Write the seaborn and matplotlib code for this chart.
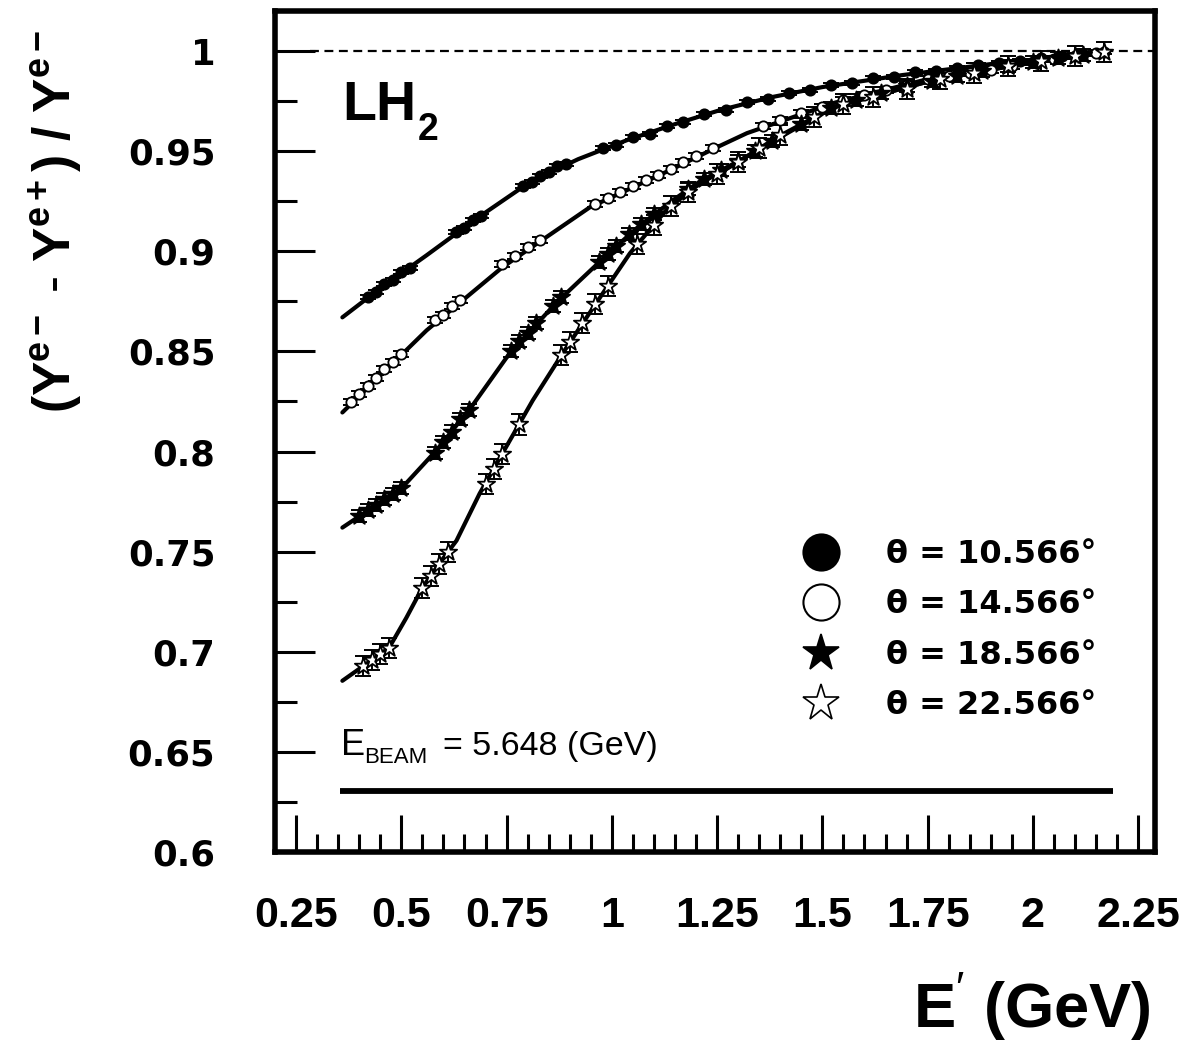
import numpy as np
import pandas as pd
import matplotlib
matplotlib.use("Agg")
import matplotlib.pyplot as plt
import seaborn as sns
from matplotlib.lines import Line2D
from matplotlib.ticker import FixedLocator, MultipleLocator

# ---------------- data ----------------
labels = ["θ = 10.566°", "θ = 14.566°", "θ = 18.566°", "θ = 22.566°"]

# theta = 10.566 deg (filled circles)
x1 = [0.42, 0.44, 0.46, 0.48, 0.50, 0.52, 0.63, 0.65, 0.67, 0.69, 0.79, 0.81, 0.83, 0.85,
      0.87, 0.89, 0.98, 1.01, 1.05, 1.09, 1.13, 1.17, 1.22, 1.27, 1.32, 1.37, 1.42, 1.47,
      1.52, 1.57, 1.62, 1.67, 1.72, 1.77, 1.82, 1.87, 1.92, 1.97, 2.02, 2.07, 2.12, 2.17]
y1 = [0.8770, 0.8795, 0.8835, 0.8855, 0.8895, 0.8915, 0.9095, 0.9115, 0.9155, 0.9175,
      0.9325, 0.9345, 0.9375, 0.9395, 0.9425, 0.9435, 0.9515, 0.9530, 0.9570, 0.9585,
      0.9625, 0.9645, 0.9685, 0.9705, 0.9745, 0.9760, 0.9790, 0.9805, 0.9830, 0.9840,
      0.9865, 0.9870, 0.9895, 0.9900, 0.9915, 0.9930, 0.9940, 0.9950, 0.9965, 0.9975,
      0.9985, 0.9993]
fx1 = [0.36, 0.45, 0.56, 0.68, 0.805, 0.92, 1.036, 1.15, 1.257, 1.38, 1.50, 1.69, 1.90, 2.18]
fy1 = [0.867, 0.8815, 0.898, 0.9165, 0.9345, 0.946, 0.9555, 0.9635, 0.9705, 0.977, 0.982,
       0.988, 0.9935, 0.9995]

# theta = 14.566 deg (open circles)
x2 = [0.38, 0.40, 0.42, 0.44, 0.46, 0.48, 0.50, 0.58, 0.60, 0.62, 0.64, 0.74, 0.77, 0.80,
      0.83, 0.96, 0.99, 1.02, 1.05, 1.08, 1.11, 1.14, 1.17, 1.20, 1.24, 1.36, 1.40, 1.45,
      1.50, 1.55, 1.60, 1.65, 1.70, 1.75, 1.80, 1.85, 1.90, 1.95, 2.00, 2.05, 2.10, 2.15]
y2 = [0.8245, 0.8285, 0.8325, 0.8365, 0.8410, 0.8445, 0.8485, 0.8655, 0.8680, 0.8725,
      0.8755, 0.8935, 0.8975, 0.9020, 0.9055, 0.9235, 0.9265, 0.9295, 0.9325, 0.9355,
      0.9380, 0.9410, 0.9445, 0.9475, 0.9515, 0.9625, 0.9655, 0.9690, 0.9720, 0.9755,
      0.9780, 0.9805, 0.9830, 0.9860, 0.9875, 0.9890, 0.9905, 0.9925, 0.9945, 0.9960,
      0.9975, 0.9990]
fx2 = [0.36, 0.56, 0.74, 0.948, 1.138, 1.25, 1.321, 1.526, 1.76, 2.00, 2.18]
fy2 = [0.8195, 0.8605, 0.892, 0.922, 0.9405, 0.952, 0.959, 0.974, 0.9865, 0.9945, 0.9995]

# theta = 18.566 deg (filled stars)
x3 = [0.40, 0.42, 0.44, 0.46, 0.48, 0.50, 0.58, 0.60, 0.62, 0.64, 0.66, 0.76, 0.78, 0.80,
      0.82, 0.86, 0.88, 0.97, 0.99, 1.01, 1.04, 1.07, 1.10, 1.18, 1.22, 1.26, 1.30, 1.34,
      1.38, 1.45, 1.52, 1.58, 1.64, 1.70, 1.76, 1.82, 1.88, 1.94, 2.00, 2.06, 2.12]
y3 = [0.7680, 0.7710, 0.7735, 0.7765, 0.7790, 0.7820, 0.7995, 0.8050, 0.8100, 0.8160,
      0.8205, 0.8500, 0.8550, 0.8590, 0.8640, 0.8725, 0.8770, 0.8945, 0.8985, 0.9025,
      0.9085, 0.9135, 0.9185, 0.9310, 0.9360, 0.9405, 0.9450, 0.9500, 0.9550, 0.9635,
      0.9715, 0.9755, 0.9790, 0.9825, 0.9850, 0.9875, 0.9898, 0.9925, 0.9945, 0.9963,
      0.9980]
fx3 = [0.36, 0.502, 0.583, 0.669, 0.757, 0.869, 0.995, 1.067, 1.145, 1.21, 1.305, 1.383,
       1.526, 1.764, 2.00, 2.18]
fy3 = [0.762, 0.782, 0.8005, 0.823, 0.849, 0.8745, 0.8995, 0.913, 0.9255, 0.935, 0.9455,
       0.955, 0.972, 0.9855, 0.9945, 0.9995]

# theta = 22.566 deg (open stars)
x4 = [0.41, 0.43, 0.45, 0.47, 0.55, 0.57, 0.59, 0.61, 0.70, 0.72, 0.74, 0.78, 0.88, 0.90,
      0.93, 0.96, 0.99, 1.06, 1.10, 1.14, 1.18, 1.25, 1.30, 1.35, 1.40, 1.48, 1.55, 1.62,
      1.70, 1.78, 1.86, 1.94, 2.02, 2.10, 2.17]
y4 = [0.6930, 0.6960, 0.6990, 0.7020, 0.7320, 0.7380, 0.7440, 0.7500, 0.7840, 0.7915,
      0.7990, 0.8135, 0.8480, 0.8545, 0.8640, 0.8735, 0.8825, 0.9035, 0.9130, 0.9225,
      0.9295, 0.9385, 0.9445, 0.9515, 0.9580, 0.9670, 0.9735, 0.9770, 0.9810, 0.9860,
      0.9890, 0.9925, 0.9950, 0.9975, 0.9993]
fx4 = [0.36, 0.471, 0.512, 0.55, 0.59, 0.631, 0.686, 0.74, 0.774, 0.812, 0.883, 0.964,
       1.043, 1.131, 1.21, 1.288, 1.393, 1.526, 1.764, 2.00, 2.18]
fy4 = [0.6855, 0.702, 0.717, 0.732, 0.744, 0.7555, 0.779, 0.799, 0.8115, 0.8255, 0.849,
       0.8745, 0.899, 0.921, 0.934, 0.943, 0.957, 0.972, 0.9855, 0.9945, 0.9995]

errs = [0.001, 0.0015, 0.003, 0.005]

xticks = [0.25, 0.5, 0.75, 1.0, 1.25, 1.5, 1.75, 2.0, 2.25]
xticklabels = ["0.25", "0.5", "0.75", "1", "1.25", "1.5", "1.75", "2", "2.25"]
yticks = [0.6, 0.65, 0.7, 0.75, 0.8, 0.85, 0.9, 0.95, 1.0]
yticklabels = ["0.6", "0.65", "0.7", "0.75", "0.8", "0.85", "0.9", "0.95", "1"]

ebeam_line_y = 0.6305
ebeam_line_x = (0.355, 2.19)

# ---------------- figure ----------------
sns.set_theme(style="ticks")
plt.rcParams['font.family'] = ['DejaVu Sans']
plt.rcParams.update({
    'axes.facecolor': 'white', 'text.color': 'black', 'axes.labelcolor': 'black',
    'xtick.color': 'black', 'ytick.color': 'black',
    'mathtext.fontset': 'custom', 'mathtext.rm': 'Liberation Sans',
    'mathtext.bf': 'Liberation Sans:bold', 'mathtext.it': 'Liberation Sans:italic',
})

W, H = 1186, 1043
fig = plt.figure(figsize=(W / 100, H / 100), dpi=100)
ax = fig.add_axes([275 / W, 1 - 852 / H, 880 / W, 841 / H])

series = [
    (x1, y1, fx1, fy1, 'o', 'black', 55),
    (x2, y2, fx2, fy2, 'o', 'white', 55),
    (x3, y3, fx3, fy3, '*', 'black', 170),
    (x4, y4, fx4, fy4, '*', 'white', 170),
]
for i, (xs, ys, fxs, fys, mk, fc, sz) in enumerate(series):
    fit = pd.DataFrame({"x": fxs, "y": fys})
    sns.lineplot(data=fit, x="x", y="y", color="black", lw=3.0, sort=False,
                 estimator=None, ax=ax, zorder=2)
    ax.errorbar(xs, ys, yerr=errs[i], fmt='none', ecolor='black', elinewidth=1.4,
                capsize=6, capthick=1.4, zorder=3)
    pts = pd.DataFrame({"x": xs, "y": ys})
    sns.scatterplot(data=pts, x="x", y="y", marker=mk, s=sz, color=fc,
                    edgecolor='black', linewidth=1.3, ax=ax, zorder=4)

# reference lines
ax.axhline(1.0, xmin=(310 - 275) / 880, xmax=1.0, color='black', lw=1.6,
           ls=(0, (4, 2.5)), zorder=1)
ax.hlines(ebeam_line_y, ebeam_line_x[0], ebeam_line_x[1], color='black', lw=4.2, zorder=1)

# axes limits & ticks
ax.set_xlim(0.2, 2.29)
ax.set_ylim(0.6, 1.02)
ax.xaxis.set_major_locator(FixedLocator(xticks))
ax.xaxis.set_minor_locator(MultipleLocator(0.05))
ax.yaxis.set_major_locator(FixedLocator(yticks))
ax.yaxis.set_minor_locator(MultipleLocator(0.025))
ax.set_xticklabels(xticklabels, family=['Liberation Sans', 'DejaVu Sans'],
                   fontweight='bold', fontsize=31)
ax.set_yticklabels(yticklabels, family=['DejaVu Sans'], fontweight='bold', fontsize=25.5)
ax.tick_params(axis='x', which='major', direction='in', length=27, width=2.2, pad=32,
               top=False, bottom=True)
ax.tick_params(axis='x', which='minor', direction='in', length=13, width=2.2,
               top=False, bottom=True)
ax.tick_params(axis='y', which='major', direction='in', length=29, width=2.2, pad=43,
               left=True, right=False)
ax.tick_params(axis='y', which='minor', direction='in', length=16, width=2.2,
               left=True, right=False)
for sp in ax.spines.values():
    sp.set_linewidth(4.0)
    sp.set_color('black')
    sp.set_visible(True)
ax.grid(False)

# axis labels
ax.set_ylabel(r'$\mathbf{(Y^{e-}\ \text{-}\ Y^{e+})\ /\ Y^{e-}}$', fontsize=37,
              va='center', ha='center')
ax.yaxis.set_label_coords((56 - 275) / 880, (852 - 221) / 841)
ax.set_xlabel(r"E$^{\prime}$ (GeV)", family=['Liberation Sans', 'DejaVu Sans'],
              fontweight='bold', fontsize=45.5)
ax.xaxis.label.set_ha('right')
ax.xaxis.label.set_va('baseline')
ax.xaxis.set_label_coords((1151 - 275) / 880, (852 - 1027) / 841)

# in-plot texts
tf = ['Liberation Sans', 'DejaVu Sans']
ax.text((342 - 275) / 880, (852 - 120) / 841, "LH", transform=ax.transAxes,
        family=tf, fontweight='bold', fontsize=40, va='baseline', ha='left')
ax.text((418 - 275) / 880, (852 - 140) / 841, "2", transform=ax.transAxes,
        family=tf, fontweight='bold', fontsize=27, va='baseline', ha='left')
ax.text((341 - 275) / 880, (852 - 755) / 841, "E", transform=ax.transAxes,
        family=tf, fontsize=26, va='baseline', ha='left')
ax.text((364 - 275) / 880, (852 - 763) / 841, "BEAM", transform=ax.transAxes,
        family=tf, fontsize=16, va='baseline', ha='left')
ax.text((443 - 275) / 880, (852 - 755) / 841, "= 5.648 (GeV)", transform=ax.transAxes,
        family=tf, fontsize=24.5, va='baseline', ha='left')

# legend
handles = [
    Line2D([], [], ls='none', marker='o', ms=26, mfc='black', mec='black', mew=1.5),
    Line2D([], [], ls='none', marker='o', ms=26, mfc='white', mec='black', mew=1.5),
    Line2D([], [], ls='none', marker='*', ms=28, mfc='black', mec='black', mew=1.2),
    Line2D([], [], ls='none', marker='*', ms=28, mfc='white', mec='black', mew=1.2),
]
leg = ax.legend(handles, labels, loc='upper left',
                bbox_to_anchor=((800 - 275) / 880, (852 - 539) / 841),
                frameon=False, prop={'family': 'DejaVu Sans', 'weight': 'bold', 'size': 23},
                handlelength=1.3, handletextpad=1.4, labelspacing=0.61, borderpad=0,
                borderaxespad=0)

fig.savefig("out.png", dpi=100, facecolor='white')
